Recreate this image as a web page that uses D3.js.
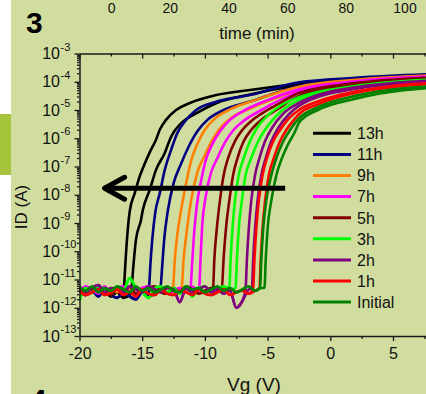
<!DOCTYPE html>
<html>
<head>
<meta charset="utf-8">
<script src="https://cdn.jsdelivr.net/npm/d3@7"></script>
<style>
body { margin: 0; background: #fff; }
svg { display: block; font-family: Arial, "Liberation Sans", sans-serif; }
</style>
</head>
<body>
<div id="chart"></div>
<script>
// ---- data ----
const seriesNames = ['13h', '11h', '9h', '7h', '5h', '3h', '2h', '1h', 'Initial'];
const seriesColors = ['#000000', '#000080', '#ff8000', '#ff00ff', '#800000', '#00ff00', '#800080', '#ff0000', '#008000'];

const xTicks = [-20, -15, -10, -5, 0, 5];
const xMinorTicks = [-17.5, -12.5, -7.5, -2.5, 2.5, 7.5];
const yDecades = [-13, -12, -11, -10, -9, -8, -7, -6, -5, -4, -3];
const timeTicks = [0, 20, 40, 60, 80, 100];

// off-state noise floor, log10(ID) at these gate voltages
const floorVg = [-20, -19.5, -19, -18.5, -18, -17.5, -17, -16.5, -16, -15.5, -15, -14.5, -14, -13.5, -13,
    -12.5, -12, -11.5, -11, -10.5, -10, -9.5, -9, -8.5, -8, -7.5, -7, -6.5, -6, -5.5];
const floor13h = [-11.3, -11.5, -11.35, -11.55, -11.4, -11.6, -11.45, -11.65, -11.55];
const floor11h = [-11.4, -11.55, -11.4, -11.6, -11.35, -11.55, -11.65, -11.45, -11.6, -11.7, -11.45, -11.6, -11.5];
const floor9h = [-11.25, -11.45, -11.3, -11.25, -11.5, -11.3, -11.45, -11.25, -11.35, -11.5, -11.35, -11.3, -11.5, -11.35, -11.3, -11.5, -11.4];
const floor7h = [-11.45, -11.25, -11.35, -11.5, -11.25, -11.45, -11.3, -11.25, -11.45, -11.5, -11.3, -11.25, -11.45, -11.3, -11.5, -11.4, -11.3, -11.45, -11.25, -11.4];
const floor5h = [-11.3, -11.5, -11.4, -11.25, -11.45, -11.55, -11.3, -11.45, -11.25, -11.5, -11.4, -11.3, -11.25, -11.45, -11.5, -11.3, -11.45, -11.25, -11.35, -11.5, -11.4, -11.3, -11.4];
const floor3h = [-11.75, -11.3, -11.45, -11.25, -11.35, -11.45, -11.25, -11.4, -10.95, -11.3, -11.45, -11.65, -11.3, -11.25, -11.45, -11.3, -11.5, -11.25, -11.6, -11.3, -11.25, -11.45, -11.3, -11.25, -11.35];
const floor2h = [-11.25, -11.45, -11.3, -11.2, -11.45, -11.3, -11.35, -11.45, -11.25, -11.35, -11.45, -11.25, -11.35, -11.45, -11.3, -11.35, -11.8, -11.3, -11.45, -11.35, -11.25, -11.45, -11.35, -11.5, -11.4, -12.0, -11.75, -11.35];
const floor1h = [-11.4, -11.55, -11.45, -11.35, -11.55, -11.45, -11.35, -11.55, -11.45, -11.6, -11.35, -11.5, -11.55, -11.35, -11.5, -11.55, -11.4, -11.45, -11.55, -11.35, -11.5, -11.55, -11.45, -11.35, -11.55, -11.45, -11.4, -11.5, -11.4];
const floorInitial = [-11.25, -11.4, -11.25, -11.45, -11.3, -11.4, -11.25, -11.35, -11.45, -11.25, -11.4, -11.3, -11.45, -11.35, -11.25, -11.4, -11.45, -11.25, -11.35, -11.3, -11.45, -11.35, -11.25, -11.4, -11.3, -11.45, -11.35, -11.25, -11.4, -11.3];

// turn-on branches [Vg, log10(ID)]; A = left sweep, B = right sweep
const sweepA13h = [[-16.45, -11.3], [-16.35, -10.5], [-16.25, -9.8], [-16.0, -8.6], [-15.6, -7.95], [-15.2, -7.35], [-14.8, -6.9], [-14.4, -6.5], [-13.9, -6.05], [-13.6, -5.7], [-13.1, -5.35], [-12.3, -5.0], [-11.2, -4.75], [-9.1, -4.47], [-6.4, -4.29], [-2.5, -4.07], [2, -3.92], [10, -3.75]];
const sweepB13h = [[-15.85, -11.3], [-15.7, -10.5], [-15.5, -9.6], [-15.1, -8.9], [-14.95, -8.54], [-14.4, -7.83], [-13.9, -7.12], [-13.2, -6.52], [-12.7, -5.95], [-11.9, -5.47], [-10.7, -5.12], [-9.1, -4.76], [-6.4, -4.45], [-2.5, -4.12], [2, -3.93], [10, -3.74]];
const sweepA11h = [[-14.45, -11.3], [-14.35, -10.5], [-14.2, -9.6], [-13.95, -8.6], [-13.6, -7.95], [-13.2, -7.12], [-12.7, -6.42], [-12.2, -5.82], [-11.6, -5.41], [-10.7, -5.0], [-9.1, -4.71], [-6.4, -4.47], [-2.5, -4.02], [2, -3.86], [10, -3.7]];
const sweepB11h = [[-13.55, -11.3], [-13.4, -10.5], [-13.25, -9.6], [-12.95, -8.55], [-12.5, -7.6], [-11.9, -6.9], [-11.3, -6.3], [-10.6, -5.75], [-9.8, -5.35], [-8.5, -5.0], [-6.4, -4.7], [-2.5, -4.15], [2, -3.92], [10, -3.72]];
const sweepA9h = [[-12.55, -11.3], [-12.4, -10.3], [-12.2, -9.4], [-11.9, -8.55], [-11.5, -7.6], [-11.1, -6.8], [-10.6, -6.2], [-10.0, -5.7], [-9.2, -5.3], [-8.0, -4.98], [-6.0, -4.65], [-2.5, -4.18], [2, -3.93], [10, -3.74]];
const sweepB9h = [[-11.85, -11.3], [-11.7, -10.3], [-11.45, -9.3], [-11.1, -8.2], [-10.6, -7.2], [-10.0, -6.6], [-9.4, -6.05], [-8.7, -5.6], [-7.8, -5.25], [-6.4, -4.95], [-4.5, -4.6], [-2.5, -4.3], [2, -4.0], [10, -3.78]];
const sweepA7h = [[-11.15, -11.3], [-11.0, -10.3], [-10.85, -9.3], [-10.65, -8.4], [-10.3, -7.5], [-9.95, -6.8], [-9.4, -6.2], [-8.8, -5.75], [-8.0, -5.35], [-6.8, -5.0], [-5.0, -4.65], [-2.5, -4.27], [2, -3.98], [10, -3.78]];
const sweepB7h = [[-10.45, -11.3], [-10.35, -10.3], [-10.2, -9.0], [-9.95, -8.1], [-9.5, -7.2], [-9.0, -6.7], [-8.4, -6.15], [-7.7, -5.7], [-6.8, -5.35], [-5.5, -5.0], [-3.8, -4.6], [-2.5, -4.35], [2, -4.02], [10, -3.8]];
const sweepA5h = [[-9.35, -11.3], [-9.25, -10.3], [-9.05, -9.2], [-8.8, -8.2], [-8.5, -7.3], [-8.15, -6.7], [-7.6, -6.1], [-7.0, -5.7], [-6.2, -5.35], [-5.0, -5.0], [-3.8, -4.7], [-2.5, -4.4], [2, -4.05], [10, -3.82]];
const sweepB5h = [[-8.65, -11.3], [-8.5, -10.2], [-8.3, -9.1], [-8.05, -8.2], [-7.75, -7.3], [-7.4, -6.7], [-6.9, -6.1], [-6.3, -5.7], [-5.5, -5.35], [-4.3, -5.0], [-2.5, -4.5], [2, -4.1], [10, -3.85]];
const sweepA3h = [[-8.05, -11.3], [-7.95, -10.3], [-7.8, -9.2], [-7.6, -8.2], [-7.3, -7.3], [-6.9, -6.7], [-6.4, -6.1], [-5.8, -5.6], [-5.0, -5.2], [-4.0, -4.85], [-2.5, -4.55], [2, -4.15], [10, -3.88]];
const sweepB3h = [[-7.55, -11.3], [-7.45, -10.3], [-7.3, -9.2], [-7.05, -8.2], [-6.75, -7.3], [-6.3, -6.7], [-5.8, -6.15], [-5.2, -5.7], [-4.4, -5.25], [-3.5, -4.9], [-2.5, -4.65], [2, -4.2], [10, -3.9]];
const sweepA2h = [[-6.75, -11.3], [-6.65, -10.3], [-6.5, -9.2], [-6.3, -8.2], [-6.0, -7.3], [-5.65, -6.7], [-5.2, -6.1], [-4.6, -5.6], [-3.8, -5.15], [-2.5, -4.75], [2, -4.2], [10, -3.92]];
const sweepB2h = [[-6.25, -11.3], [-6.15, -10.3], [-6.0, -9.2], [-5.8, -8.2], [-5.5, -7.3], [-5.15, -6.7], [-4.7, -6.1], [-4.1, -5.6], [-3.3, -5.15], [-2.5, -4.85], [2, -4.25], [10, -3.95]];
const sweepA1h = [[-6.15, -11.3], [-6.05, -10.3], [-5.9, -9.2], [-5.7, -8.2], [-5.4, -7.3], [-5.05, -6.7], [-4.6, -6.15], [-4.0, -5.7], [-3.3, -5.3], [-2.5, -5.0], [-1.0, -4.7], [2, -4.35], [10, -4.0]];
const sweepB1h = [[-5.65, -11.3], [-5.55, -10.3], [-5.4, -9.2], [-5.2, -8.2], [-4.9, -7.3], [-4.5, -6.7], [-4.05, -6.15], [-3.5, -5.7], [-2.9, -5.35], [-2.5, -5.15], [-1.0, -4.8], [2, -4.4], [10, -4.02]];
const sweepAInitial = [[-5.6, -11.3], [-5.5, -10.3], [-5.35, -9.2], [-5.1, -8.2], [-4.7, -7.3], [-4.3, -6.7], [-3.8, -6.15], [-3.2, -5.7], [-2.5, -5.3], [-1.0, -4.9], [2, -4.5], [10, -4.1]];
const sweepBInitial = [[-5.25, -11.3], [-5.15, -10.3], [-5.0, -9.2], [-4.7, -8.2], [-4.3, -7.3], [-3.85, -6.7], [-3.35, -6.2], [-2.8, -5.75], [-2.5, -5.45], [-1.0, -5.0], [2, -4.6], [10, -4.15]];

// shift arrow: from/to gate voltage at this current level
const arrowVg = [-3.6, -18.0];
const arrowLog = -7.77;

const floors = [floor13h, floor11h, floor9h, floor7h, floor5h, floor3h, floor2h, floor1h, floorInitial];
const sweepsA = [sweepA13h, sweepA11h, sweepA9h, sweepA7h, sweepA5h, sweepA3h, sweepA2h, sweepA1h, sweepAInitial];
const sweepsB = [sweepB13h, sweepB11h, sweepB9h, sweepB7h, sweepB5h, sweepB3h, sweepB2h, sweepB1h, sweepBInitial];

// ---- layout ----
const width = 426, height = 394;
const plot = { left: 79.5, top: 53.5, bottom: 336, right: 455.7 };
const axisColor = '#1a1a1a';

const svg = d3.select('#chart').append('svg')
    .attr('width', width)
    .attr('height', height);

// page background and side strip
svg.append('rect').attr('width', width).attr('height', height).attr('fill', '#d1dd9f');
svg.append('rect').attr('width', 11).attr('height', height).attr('fill', '#ffffff');
svg.append('rect').attr('y', 114).attr('width', 11).attr('height', 61).attr('fill', '#a6c33c');

const x = d3.scaleLinear().domain([-20, 10]).range([plot.left, plot.right]);
const y = d3.scaleLog().domain([1e-13, 1e-3]).range([plot.bottom, plot.top]);

// remnants of the neighbouring panels
svg.append('text').attr('x', 26).attr('y', 33)
    .attr('font-size', 30).attr('font-weight', 'bold').text('3');
svg.append('text').attr('x', 30).attr('y', 410)
    .attr('font-size', 30).attr('font-weight', 'bold').text('4');

const time = d3.scaleLinear().domain([0, 100]).range([111.7, 405]);
svg.append('g').selectAll('text')
    .data(timeTicks)
    .join('text')
    .attr('x', d => time(d))
    .attr('y', 12.7)
    .attr('text-anchor', 'middle')
    .attr('font-size', 14)
    .attr('fill', '#111')
    .text(d => d);
svg.append('text').attr('x', 257).attr('y', 39)
    .attr('text-anchor', 'middle').attr('font-size', 17).attr('fill', '#111')
    .text('time (min)');

// ---- curves ----
svg.append('clipPath').attr('id', 'plot-clip')
    .append('rect')
    .attr('x', plot.left).attr('y', plot.top - 2)
    .attr('width', plot.right - plot.left).attr('height', plot.bottom - plot.top + 2);

const line = d3.line()
    .x(d => x(d[0]))
    .y(d => y(Math.pow(10, d[1])))
    .curve(d3.curveMonotoneX);

const series = seriesNames.map((name, i) => ({
    name: name,
    color: seriesColors[i],
    sweeps: [sweepsA[i], sweepsB[i]].map(sw => floorVg.slice(0, floors[i].length)
        .map((v, j) => [v, floors[i][j]])
        .filter(p => p[0] < sw[0][0])
        .concat(sw))
}));

const curves = svg.append('g').attr('clip-path', 'url(#plot-clip)');
series.forEach(s => {
    curves.append('g').selectAll('path')
        .data(s.sweeps)
        .join('path')
        .attr('d', line)
        .attr('fill', 'none')
        .attr('stroke', s.color)
        .attr('stroke-width', 2.6)
        .attr('stroke-linejoin', 'round');
});

// ---- axes ----
function styleAxis(g) {
    g.select('.domain').attr('stroke', axisColor).attr('stroke-width', 1.5);
    g.selectAll('.tick line').attr('stroke', axisColor).attr('stroke-width', 1.3);
}

// bottom
svg.append('g')
    .attr('transform', `translate(0,${plot.bottom})`)
    .call(d3.axisBottom(x).tickValues(xTicks).tickSize(5).tickSizeOuter(0).tickPadding(7))
    .call(styleAxis)
    .call(g => g.selectAll('.tick text').attr('font-size', 16).attr('fill', '#111')
        .attr('font-family', 'Arial, "Liberation Sans", sans-serif')
        .text(d => d < 0 ? '-' + Math.abs(d) : d));
svg.append('g')
    .attr('transform', `translate(0,${plot.bottom})`)
    .call(d3.axisBottom(x).tickValues(xMinorTicks).tickSize(3).tickFormat(''))
    .call(styleAxis)
    .call(g => g.select('.domain').remove());

// top (ticks point inward)
svg.append('g')
    .attr('transform', `translate(0,${plot.top})`)
    .call(d3.axisBottom(x).tickValues(xTicks).tickSize(5).tickSizeOuter(0).tickFormat(''))
    .call(styleAxis);
svg.append('g')
    .attr('transform', `translate(0,${plot.top})`)
    .call(d3.axisBottom(x).tickValues(xMinorTicks).tickSize(3).tickFormat(''))
    .call(styleAxis)
    .call(g => g.select('.domain').remove());

// left, log decades with minor ticks
const majorY = yDecades.map(e => Math.pow(10, e));
const minorY = [];
yDecades.slice(0, -1).forEach(e => {
    for (let k = 2; k < 10; k++) minorY.push(k * Math.pow(10, e));
});

svg.append('g')
    .attr('transform', `translate(${plot.left},0)`)
    .call(d3.axisLeft(y).tickValues(majorY).tickSize(5).tickSizeOuter(0).tickFormat(''))
    .call(styleAxis);
svg.append('g')
    .attr('transform', `translate(${plot.left},0)`)
    .call(d3.axisLeft(y).tickValues(minorY).tickSize(2.5).tickFormat(''))
    .call(styleAxis)
    .call(g => g.select('.domain').remove());

const yLabels = svg.append('g').selectAll('g')
    .data(yDecades)
    .join('g')
    .attr('transform', d => `translate(0,${y(Math.pow(10, d))})`);
yLabels.append('text')
    .attr('x', 60).attr('y', 5.7)
    .attr('text-anchor', 'end')
    .attr('font-size', 16).attr('fill', '#111')
    .text('10');
yLabels.append('text')
    .attr('x', 60.5).attr('y', -3)
    .attr('font-size', 11).attr('fill', '#111')
    .text(d => '-' + Math.abs(d));

// axis titles
svg.append('text')
    .attr('transform', 'translate(27,207) rotate(-90)')
    .attr('text-anchor', 'middle')
    .attr('font-size', 17).attr('fill', '#111')
    .text('ID (A)');
svg.append('text')
    .attr('x', 254).attr('y', 391)
    .attr('text-anchor', 'middle')
    .attr('font-size', 19).attr('fill', '#111')
    .text('Vg (V)');

// ---- shift arrow ----
const ay = y(Math.pow(10, arrowLog));
const tipX = x(arrowVg[1]);
svg.append('line')
    .attr('x1', x(arrowVg[0])).attr('y1', ay)
    .attr('x2', tipX).attr('y2', ay)
    .attr('stroke', '#000').attr('stroke-width', 5);
svg.append('path')
    .attr('d', `M${tipX + 20},${ay - 11}L${tipX},${ay}L${tipX + 20},${ay + 11}`)
    .attr('fill', 'none')
    .attr('stroke', '#000').attr('stroke-width', 5)
    .attr('stroke-linecap', 'round').attr('stroke-linejoin', 'round');

// ---- legend ----
const legend = svg.append('g').selectAll('g')
    .data(series)
    .join('g')
    .attr('transform', (d, i) => `translate(313,${133.3 + i * 21.1})`);
legend.append('line')
    .attr('x1', 0).attr('x2', 38)
    .attr('stroke', d => d.color)
    .attr('stroke-width', 3);
legend.append('text')
    .attr('x', 44).attr('y', 5.8)
    .attr('font-size', 16).attr('fill', '#111')
    .text(d => d.name);
</script>
</body>
</html>
